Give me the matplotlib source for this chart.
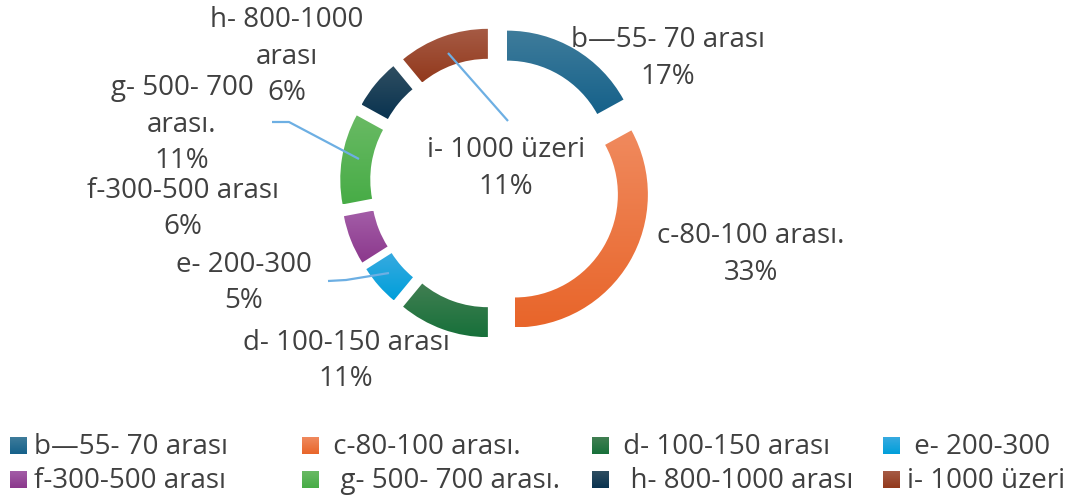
import numpy as np
import matplotlib
matplotlib.use("Agg")
import matplotlib.pyplot as plt
from matplotlib.colors import LinearSegmentedColormap

# ---------------- data ----------------
categories = ["b\u201455- 70 aras\u0131", "c-80-100 aras\u0131.", "d- 100-150 aras\u0131",
              "e- 200-300", "f-300-500 aras\u0131", "g- 500- 700 aras\u0131.",
              "h- 800-1000 aras\u0131", "i- 1000 \u00fczeri"]
values = [17, 33, 11, 5, 6, 11, 6, 11]
label_text = ["b\u201455- 70 aras\u0131", "c-80-100 aras\u0131.", "d- 100-150 aras\u0131",
              "e- 200-300", "f-300-500 aras\u0131", "g- 500- 700\naras\u0131.",
              "h- 800-1000\naras\u0131", "i- 1000 \u00fczeri"]
legend_labels = ["b\u201455- 70 aras\u0131", " c-80-100 aras\u0131.", " d- 100-150 aras\u0131",
                 " e- 200-300", "f-300-500 aras\u0131", "  g- 500- 700 aras\u0131.",
                 "  h- 800-1000 aras\u0131", "i- 1000 \u00fczeri"]
grad_top = ["#3F7C9B", "#F08A5E", "#417F52", "#38AAE0", "#A35DA7", "#69BA64", "#2F4E61", "#A65B45"]
grad_bot = ["#15618A", "#E8652A", "#17703A", "#009FDA", "#8B388C", "#47AC46", "#093350", "#92391C"]

# ---------------- layout ----------------
W, H = 1069, 501
CX, CY, R = 495.5, 183.0, 133.0       # donut centre / radius in pixels
RING = 30.0
EXPLODE = 22.5
TEXT = "#404040"
LEAD = "#6DAFE3"
FS = 20
plt.rcParams["font.family"] = ["Open Sans", "DejaVu Sans"]

fig = plt.figure(figsize=(W / 100, H / 100), dpi=100)
axp = fig.add_axes([0, 0, 1, 1])
wedges, _ = axp.pie(values, radius=1, startangle=90, counterclock=False,
                    explode=[EXPLODE / R] * len(values),
                    wedgeprops=dict(width=RING / R, linewidth=0))
grad = np.linspace(0, 1, 256).reshape(-1, 1)
for w, t, b in zip(wedges, grad_top, grad_bot):
    bb = w.get_path().get_extents(w.get_patch_transform())
    cmap = LinearSegmentedColormap.from_list("g", [t, b])
    w.set_facecolor("none")
    im = axp.imshow(grad, cmap=cmap, extent=[bb.x0, bb.x1, bb.y0, bb.y1],
                    origin="upper", aspect="auto", interpolation="bilinear", zorder=1)
    im.set_clip_path(w)
axp.set_xlim(-CX / R, (W - CX) / R)
axp.set_ylim(-(H - CY) / R, CY / R)
axp.set_aspect("auto")
axp.axis("off")

# overlay in pixel coordinates (y downward)
ax = fig.add_axes([0, 0, 1, 1])
ax.patch.set_alpha(0)
ax.axis("off")

# data labels: (centre x, first baseline y)
label_pos = [(668, 47), (751, 243), (346, 350), (244, 272), (183, 198),
             (182, 95), (287, 27), (506, 157)]
LS = 36.5
for txt, v, (x, y) in zip(label_text, values, label_pos):
    lines = txt.split("\n") + [f"{v}%"]
    for k, line in enumerate(lines):
        ax.text(x, y + k * LS, line, ha="center", va="baseline", fontsize=FS, color=TEXT)

# leader lines
leaders = [([272, 289, 359], [122, 122, 159]),
           ([328, 346, 389], [281, 280, 273]),
           ([448, 508], [53, 121])]
for xs, ys in leaders:
    ax.plot(xs, ys, color=LEAD, lw=1.6, solid_capstyle="butt")

# legend
col_x = [10, 302, 592, 883]
row_base = [454, 488]
SQ = 17
for i, (lab, t, b) in enumerate(zip(legend_labels, grad_top, grad_bot)):
    r, c = divmod(i, 4)
    x0, yb = col_x[c], row_base[r]
    cmap = LinearSegmentedColormap.from_list("g", [t, b])
    ax.imshow(grad, cmap=cmap, extent=[x0, x0 + SQ, yb, yb - SQ], origin="upper",
              aspect="auto", interpolation="bilinear")
    ax.text(x0 + SQ + 7, yb, lab, ha="left", va="baseline", fontsize=FS, color=TEXT)

ax.set_xlim(0, W)
ax.set_ylim(H, 0)

fig.savefig("out.png", dpi=100)
